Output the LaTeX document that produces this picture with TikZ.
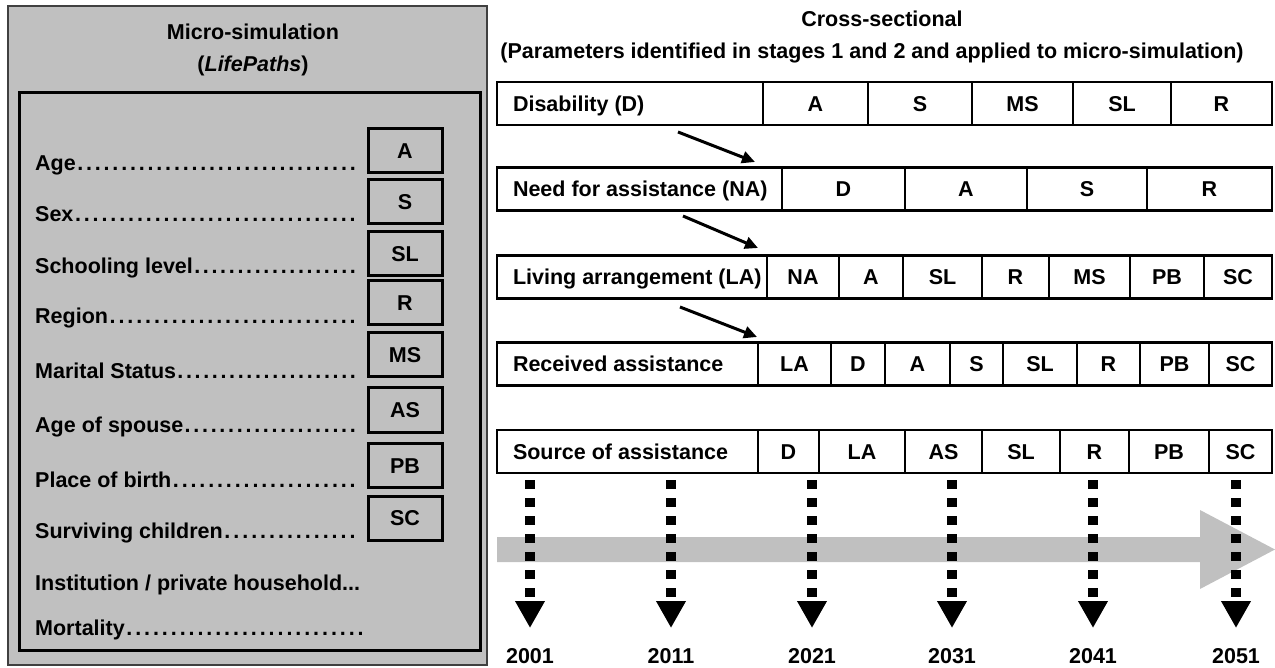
\documentclass[tikz,border=0pt]{standalone}
\usepackage{fontspec}
\setmainfont{Liberation Sans}
\usetikzlibrary{arrows.meta,positioning}
\definecolor{panelgray}{RGB}{192,192,192}
\newcommand{\dotrow}[2][322pt]{\hbox to #1{#2\xleaders\hbox to 8.6pt{\hss.\hss}\hfill}}
\newcommand{\rowlab}[2]{\hbox to #1{\hskip16pt #2\hss}}
\begin{document}
\begin{tikzpicture}
        [x=1pt, y=-1pt, font=\fontsize{21.5}{26}\selectfont\bfseries,
        panel/.style={draw=black!75, line width=1.2pt, fill=panelgray, minimum width=479pt, minimum height=659pt, inner sep=0pt},
        inbox/.style={draw, line width=3pt, minimum width=461pt, minimum height=557pt, inner sep=0pt},
        varbox/.style={draw, line width=3pt, minimum width=74pt, minimum height=44pt, inner sep=0pt, text height=15.5pt, text depth=0pt},
        item/.style={anchor=base west, inner sep=0pt},
        cell/.style={draw, line width=2.5pt, minimum height=43pt, inner sep=0pt, text height=15.5pt, text depth=0pt},
        link/.style={line width=3pt, -{Triangle[length=13pt,width=12pt]}},
        tick/.style={line width=9.5pt, dash pattern=on 9pt off 9pt, -{Triangle[length=27pt,width=28pt]}},
        year/.style={anchor=base, inner sep=0pt}]
        \useasboundingbox (0,0) rectangle (1275,668);

        % micro-simulation panel
        \node[panel] (panel) at (247.5,335.5) {};
        \node[anchor=base, inner sep=0pt] (title1) at (253,40) {Micro-simulation};
        \node[anchor=base, inner sep=0pt] (title2) at (253,72) {(\textit{LifePaths})};
        \node[inbox] (inner) at (249.5,371.5) {};
        \foreach \txt/\yb/\yc/\ab [count=\i] in {Age/171/151/A, Sex/222/201.5/S, Schooling level/274/254/SL,
                Region/324/302.5/R, Marital Status/378/355/MS, Age of spouse/432/410/AS,
                Place of birth/487/465.5/PB, Surviving children/538/518/SC}
        {
            \node[item] (i\i) at (35,\yb) {\dotrow{\txt}};
            \node[varbox] (v\i) at (405,\yc) {\ab};
        }
        \node[item] (inst) at (35,590) {Institution / private household...};
        \node[item] (mort) at (35,635) {\dotrow[330pt]{Mortality}};

        % cross-sectional part
        \node[anchor=base, inner sep=0pt] (cross1) at (882,27) {Cross-sectional};
        \node[anchor=base, inner sep=0pt] (cross2) at (872,59) {(Parameters identified in stages 1 and 2 and applied to micro-simulation)};

        \node[cell] (dlab) at (630,103.5) {\rowlab{266pt}{Disability (D)}};
        \foreach \xa/\xb/\txt [count=\i] in {763/868/A, 868/972/S, 972/1073/MS, 1073/1171/SL, 1171/1272/R}
            \node[cell, minimum width={(\xb-\xa)*1pt}] (d\i) at ({(\xa+\xb)/2},103.5) {\txt};

        \node[cell] (nalab) at (639.5,189) {\rowlab{285pt}{Need for assistance (NA)}};
        \foreach \xa/\xb/\txt [count=\i] in {782/905/D, 905/1027/A, 1027/1147/S, 1147/1272/R}
            \node[cell, minimum width={(\xb-\xa)*1pt}] (na\i) at ({(\xa+\xb)/2},189) {\txt};

        \node[cell] (lalab) at (632,277) {\rowlab{270pt}{Living arrangement (LA)}};
        \foreach \xa/\xb/\txt [count=\i] in {767/839/NA, 839/903/A, 903/982/SL, 982/1049/R, 1049/1130/MS, 1130/1204/PB, 1204/1272/SC}
            \node[cell, minimum width={(\xb-\xa)*1pt}] (la\i) at ({(\xa+\xb)/2},277) {\txt};

        \node[cell] (ralab) at (627.5,364) {\rowlab{261pt}{Received assistance}};
        \foreach \xa/\xb/\txt [count=\i] in {758/831/LA, 831/885/D, 885/950/A, 950/1003/S, 1003/1077/SL, 1077/1140/R, 1140/1209/PB, 1209/1272/SC}
            \node[cell, minimum width={(\xb-\xa)*1pt}] (ra\i) at ({(\xa+\xb)/2},364) {\txt};

        \node[cell] (salab) at (627.5,451.5) {\rowlab{261pt}{Source of assistance}};
        \foreach \xa/\xb/\txt [count=\i] in {758/819/D, 819/905/LA, 905/982/AS, 982/1060/SL, 1060/1129/R, 1129/1209/PB, 1209/1272/SC}
            \node[cell, minimum width={(\xb-\xa)*1pt}] (sa\i) at ({(\xa+\xb)/2},451.5) {\txt};

        % links between stages
        \coordinate (l1a) at (678,132);  \coordinate (l1b) at (755,162);
        \coordinate (l2a) at (683,216);  \coordinate (l2b) at (758,248);
        \coordinate (l3a) at (680,307);  \coordinate (l3b) at (757,337);
        \draw[link] (l1a) -- (l1b);
        \draw[link] (l2a) -- (l2b);
        \draw[link] (l3a) -- (l3b);

        % time axis
        \fill[panelgray] (497,537) -- (1200,537) -- (1200,510) -- (1275,549.5) -- (1200,589) -- (1200,562) -- (497,562) -- cycle;
        \foreach \x/\yr [count=\i] in {530/2001, 671/2011, 812/2021, 952/2031, 1093/2041, 1236/2051}
        {
            \coordinate (t\i) at (\x,480);
            \coordinate (b\i) at (\x,628);
            \draw[tick] (t\i) -- (b\i);
            \node[year] (y\i) at (\x,663) {\yr};
        }
\end{tikzpicture}
\end{document}
